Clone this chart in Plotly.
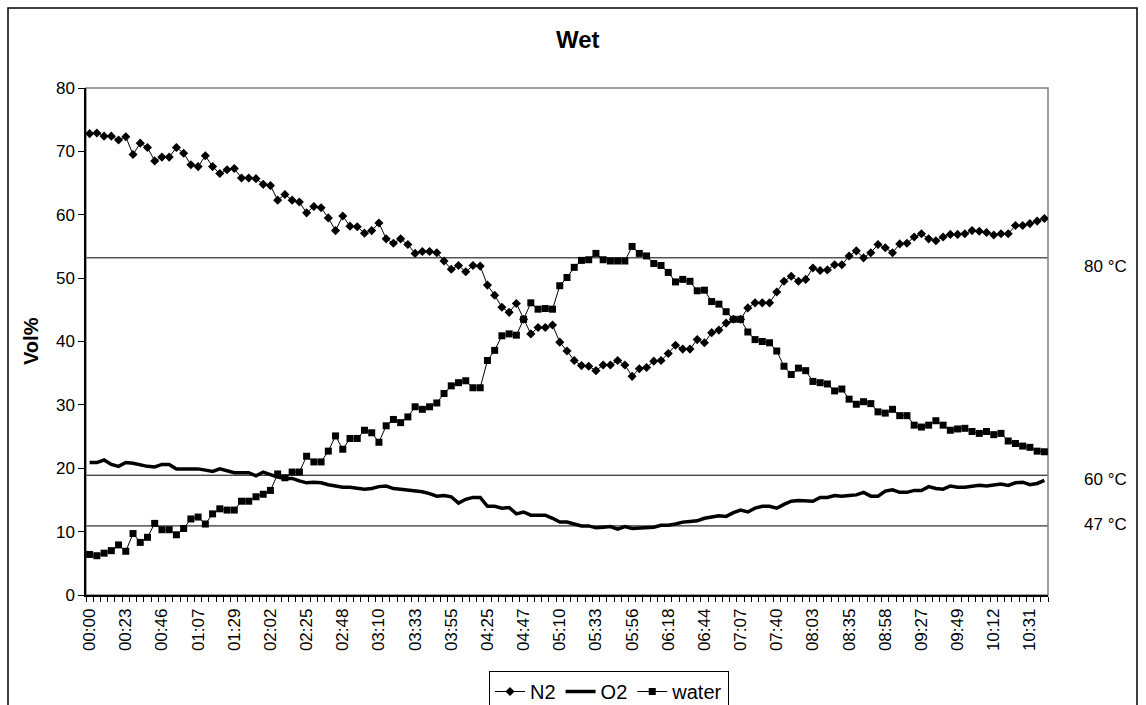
import plotly.graph_objects as go

# ---------------- data ----------------
tick_labels = ["00:00", "00:23", "00:46", "01:07", "01:29", "02:02", "02:25", "02:48", "03:10",
               "03:33", "03:55", "04:25", "04:47", "05:10", "05:33", "05:56", "06:18", "06:44",
               "07:07", "07:40", "08:03", "08:35", "08:58", "09:27", "09:49", "10:12", "10:31"]
label_every = 5

n2 = [72.8, 72.9, 72.4, 72.4, 71.8, 72.3, 69.5, 71.3, 70.6, 68.5, 69.1, 69.1, 70.6, 69.7, 67.9,
      67.6, 69.3, 67.6, 66.5, 67.1, 67.3, 65.8, 65.8, 65.7, 64.8, 64.6, 62.3, 63.2, 62.3, 62.0,
      60.3, 61.3, 61.1, 59.5, 57.5, 59.8, 58.2, 58.1, 57.1, 57.5, 58.7,
      56.2, 55.5, 56.2, 55.3, 53.9, 54.2, 54.2, 54.0, 52.7, 51.4, 52.0, 51.0, 52.0, 51.9, 48.9,
      47.3, 45.4, 44.6, 46.0, 43.5,
      41.2, 42.2, 42.2, 42.6, 39.9, 38.5, 37.0, 36.2, 36.1, 35.4, 36.3, 36.3, 37.0, 36.3, 34.5,
      35.7, 35.9, 36.9, 37.0, 38.1,
      39.4, 38.8, 38.8, 40.3, 39.8, 41.4, 41.8, 42.9, 43.5, 43.5, 45.3, 46.1, 46.1, 46.1, 47.8,
      49.5, 50.3, 49.5, 49.8, 51.6, 51.2, 51.3, 52.1, 52.1,
      53.5, 54.3, 53.2, 54.0, 55.3, 54.8, 54.0, 55.4, 55.5, 56.5, 57.0, 56.2, 55.9, 56.5, 56.9,
      56.9,
      57.0, 57.5, 57.4, 57.2, 56.8, 57.0, 57.0, 58.3, 58.3, 58.6, 59.0, 59.4]

o2 = [20.9, 20.9, 21.3, 20.6, 20.3, 20.9, 20.8, 20.5, 20.3, 20.2, 20.6, 20.6, 19.9, 19.9, 19.9,
      19.9, 19.7, 19.5, 19.9, 19.6, 19.3, 19.3, 19.3, 18.8, 19.4, 19.0, 18.6, 18.4, 18.4, 18.0,
      17.7, 17.8, 17.7, 17.4, 17.2, 17.0, 17.0, 16.9, 16.7, 16.8, 17.1,
      17.2, 16.8, 16.7, 16.6, 16.4, 16.3, 16.0, 15.6, 15.7, 15.5, 14.5, 15.1, 15.4, 15.4, 14.0,
      14.0, 13.7, 13.8, 12.8, 13.1, 12.6, 12.6, 12.6, 12.1, 11.5, 11.5, 11.2, 10.9, 10.9, 10.6,
      10.7, 10.8, 10.4, 10.8, 10.5, 10.6, 10.6, 10.7, 11.0, 11.0,
      11.2, 11.5, 11.6, 11.7, 12.1, 12.3, 12.5, 12.4, 13.0, 13.4, 13.1, 13.7, 14.0, 14.0, 13.7,
      14.3, 14.8, 14.9, 14.8, 14.8, 15.4, 15.4, 15.7, 15.6, 15.7, 15.8, 16.2, 15.6, 15.6, 16.4,
      16.6, 16.2, 16.2, 16.5, 16.5, 17.1, 16.8, 16.7, 17.2, 17.0,
      17.0, 17.1, 17.3, 17.2, 17.4, 17.5, 17.3, 17.7, 17.8, 17.4, 17.6, 18.1]

water = [6.4, 6.2, 6.6, 7.0, 7.9, 6.9, 9.7, 8.3, 9.1, 11.3, 10.3, 10.3, 9.5, 10.5, 12.0, 12.3,
         11.2, 12.8, 13.6, 13.4, 13.4, 14.8, 14.8, 15.5, 15.9, 16.5, 19.1, 18.5, 19.4, 19.4, 21.9,
         21.0, 21.0, 22.7, 25.1, 23.0, 24.7, 24.7, 26.0, 25.6, 24.1,
         26.7, 27.7, 27.2, 28.1, 29.7, 29.3, 29.7, 30.3, 31.8, 33.0, 33.5, 33.8, 32.7, 32.7, 37.0,
         38.6, 40.9, 41.2, 41.0, 43.5, 46.1, 45.1, 45.2, 45.1, 48.8, 50.1, 51.7,
         52.8, 52.9, 53.9, 52.9, 52.7, 52.7, 52.7, 55.0, 53.9, 53.5, 52.3, 52.0, 50.9,
         49.4, 49.8, 49.5, 48.0, 48.1, 46.3, 45.9, 44.7, 43.5, 43.5, 41.5, 40.3, 40.0, 39.8, 38.5,
         36.1, 34.8, 35.8, 35.4, 33.7, 33.5, 33.3, 32.2, 32.5, 30.9, 30.1, 30.5, 30.2, 28.9, 28.7,
         29.3, 28.3, 28.3, 26.8, 26.5, 26.8, 27.5, 26.8, 26.0, 26.2,
         26.3, 25.8, 25.5, 25.8, 25.3, 25.5, 24.3, 23.9, 23.5, 23.3, 22.7, 22.6]

ref_levels = [53.2, 18.9, 10.9]
ref_labels = ["80 °C", "60 °C", "47 °C"]
ref_label_y = [51.9, 18.3, 11.2]

# ---------------- figure ----------------
FONT = "Liberation Sans, Arial, sans-serif"
W, H = 1146, 705
L, R, T, B = 86, 98, 88, 110
PW, PH = W - L - R, H - T - B
x = list(range(len(n2)))


def px_x(p):
    return (p - L) / PW


def px_y(p):
    return (H - B - p) / PH


fig = go.Figure()
fig.add_trace(go.Scatter(x=x, y=n2, name="N2", mode="lines+markers",
                         line=dict(color="black", width=1),
                         marker=dict(symbol="diamond", size=7, color="black")))
fig.add_trace(go.Scatter(x=x, y=o2, name="O2", mode="lines",
                         line=dict(color="black", width=3.5)))
fig.add_trace(go.Scatter(x=x, y=water, name="water", mode="lines+markers",
                         line=dict(color="black", width=1),
                         marker=dict(symbol="square", size=7, color="black")))

shapes = []
for lv in ref_levels:
    shapes.append(dict(type="line", xref="paper", yref="y", x0=0, x1=1, y0=lv, y1=lv,
                       line=dict(color="black", width=1), layer="below"))
# plot-area border (grey)
shapes.append(dict(type="rect", xref="paper", yref="paper", x0=0, x1=1, y0=0, y1=1,
                   line=dict(color="#808080", width=1.5), layer="below"))
# chart-area border
shapes.append(dict(type="rect", xref="paper", yref="paper",
                   x0=px_x(8), x1=px_x(1137), y0=px_y(720), y1=px_y(8),
                   line=dict(color="black", width=1.5), layer="below"))

annotations = []
for lab, ly in zip(ref_labels, ref_label_y):
    annotations.append(dict(text=lab, xref="paper", yref="y", x=px_x(1082), y=ly,
                            xanchor="left", yanchor="middle", showarrow=False,
                            font=dict(family=FONT, size=17, color="black")))
annotations.append(dict(text="<b>Wet</b>", xref="paper", yref="paper",
                        x=px_x(578), y=px_y(40), xanchor="center",
                        yanchor="middle", showarrow=False,
                        font=dict(family=FONT, size=24, color="black")))
annotations.append(dict(text="<b>Vol%</b>", xref="paper", yref="paper",
                        x=px_x(31), y=px_y(341), xanchor="center",
                        yanchor="middle", textangle=-90, showarrow=False,
                        font=dict(family=FONT, size=20, color="black")))

fig.update_layout(
    width=W, height=H,
    margin=dict(l=L, r=R, t=T, b=B, autoexpand=False),
    paper_bgcolor="white", plot_bgcolor="white",
    font=dict(family=FONT, size=17, color="black"),
    showlegend=True,
    legend=dict(orientation="h", x=px_x(609), xanchor="center",
                yref="container", y=1 - 671 / H, yanchor="top",
                bordercolor="black", borderwidth=1, bgcolor="white",
                font=dict(family=FONT, size=20, color="black"),
                itemwidth=30, tracegroupgap=0),
    shapes=shapes,
    annotations=annotations,
    xaxis=dict(range=[-0.5, len(n2) - 0.5], tickmode="array",
               tickvals=[i * label_every for i in range(len(tick_labels))],
               ticktext=tick_labels, tickangle=-90,
               ticks="outside", ticklen=5, tickcolor="rgba(0,0,0,0)",
               showline=True, linecolor="black", linewidth=1.5,
               showgrid=False, zeroline=False, automargin=False,
               tickfont=dict(family=FONT, size=17),
               minor=dict(tickmode="linear", tick0=-0.5, dtick=1, ticks="outside",
                          ticklen=5, tickcolor="black", tickwidth=1, showgrid=False)),
    yaxis=dict(range=[0, 80], dtick=10, ticks="outside", ticklen=6, tickcolor="black",
               showline=True, linecolor="black", linewidth=1.5,
               showgrid=False, zeroline=False, automargin=False,
               tickfont=dict(family=FONT, size=17)),
)

fig.write_html("out.html", config={"displayModeBar": False},
               post_script="document.body.style.margin='0';")
